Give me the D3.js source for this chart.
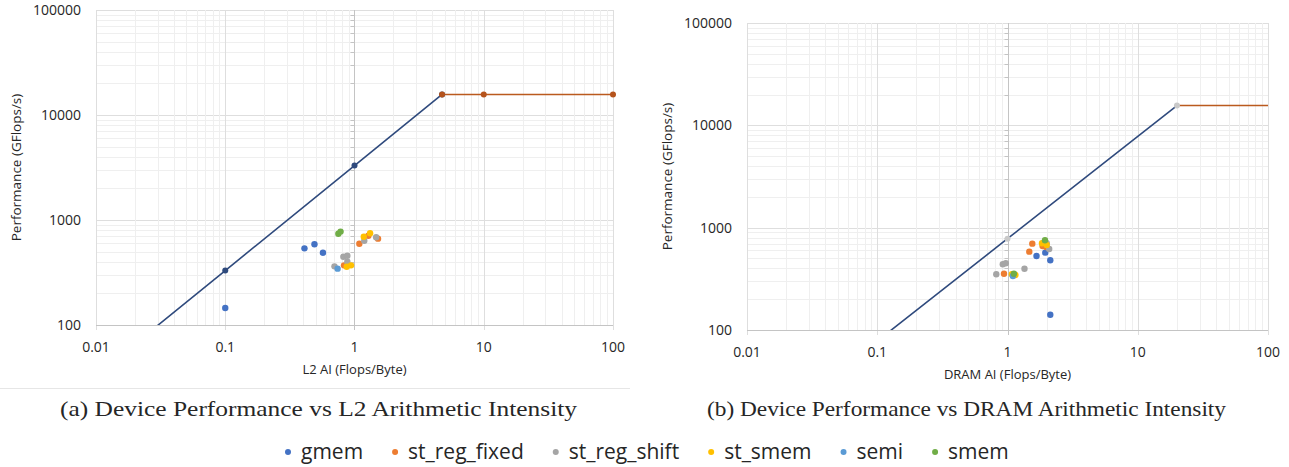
<!DOCTYPE html>
<html>
<head>
<meta charset="utf-8">
<script src="https://cdn.jsdelivr.net/npm/d3@7"></script>
<style>
  body { margin: 0; background: #fff; }
  text { font-family: "Open Sans", sans-serif; fill: #262626; }
</style>
</head>
<body>
<div id="chart"></div>
<script>
var width = 1289,
    height = 467;

// legend / series
var seriesNames = ["gmem", "st_reg_fixed", "st_reg_shift", "st_smem", "semi", "smem"];
var seriesColors = ["#4472C4", "#ED7D31", "#A5A5A5", "#FFC000", "#5B9BD5", "#70AD47"];

var xTickValues = [0.01, 0.1, 1, 10, 100];
var yTickValues = [100, 1000, 10000, 100000];

// roofline, L2
var l2RoofX = [0.01, 0.1, 1, 4.76];
var l2RoofY = [33, 330, 3300, 15700];
var l2PeakX = [4.76, 10, 100];
var l2PeakY = [15700, 15700, 15700];

// roofline, DRAM
var dramRoofX = [0.1, 1, 20];
var dramRoofY = [78, 780, 15600];
var dramPeakX = [20, 100];
var dramPeakY = [15600, 15600];

// measured kernels, L2 AI  [AI, GFlops/s]
var l2Gmem = [[0.1, 145], [0.41, 537], [0.49, 587], [0.57, 488]];
var l2RegFixed = [[0.83, 370], [1.09, 595], [1.28, 709], [1.52, 664]];
var l2RegShift = [[0.70, 362], [0.82, 447], [0.88, 457], [0.88, 401], [1.19, 635], [1.47, 684]];
var l2StSmem = [[0.87, 359], [0.94, 370], [1.18, 693], [1.32, 747]];
var l2Semi = [[0.74, 344]];
var l2Smem = [[0.75, 740], [0.78, 775]];

// measured kernels, DRAM AI
var dramGmem = [[1.67, 529], [1.95, 570], [2.13, 480], [2.13, 141]];
var dramRegFixed = [[0.94, 355], [1.47, 583], [1.55, 698], [1.86, 661], [1.98, 648]];
var dramRegShift = [[0.82, 350], [0.92, 439], [0.97, 449], [1.35, 397], [2.0, 704], [2.09, 619]];
var dramStSmem = [[1.08, 350], [1.15, 345], [1.84, 704], [2.0, 677]];
var dramSemi = [[1.10, 337]];
var dramSmem = [[1.12, 355], [1.94, 753]];

var svg = d3.select("#chart").append("svg")
    .attr("width", width)
    .attr("height", height);

svg.append("rect").attr("width", width).attr("height", height).attr("fill", "#fff");

function drawPanel(id, box, roofX, roofY, peakX, peakY, roofDot, peakDot, groups, xTitle) {
    var x = d3.scaleLog().domain([0.01, 100]).range([box.left, box.right]);
    var y = d3.scaleLog().domain([100, 100000]).range([box.bottom, box.top]);
    var g = svg.append("g");

    svg.append("clipPath").attr("id", id)
        .append("rect")
        .attr("x", box.left).attr("y", box.top)
        .attr("width", box.right - box.left)
        .attr("height", box.bottom - box.top);

    // grid
    var isMajor = function(d) { return Math.abs(Math.log10(d) - Math.round(Math.log10(d))) < 1e-6; };
    g.append("g").selectAll("line")
        .data(y.ticks())
        .enter().append("line")
        .attr("x1", box.left).attr("x2", box.right)
        .attr("y1", function(d) { return Math.round(y(d)) + 0.5; })
        .attr("y2", function(d) { return Math.round(y(d)) + 0.5; })
        .attr("stroke", function(d) { return isMajor(d) ? "#dedede" : "#efefef"; });
    g.append("g").selectAll("line")
        .data(x.ticks())
        .enter().append("line")
        .attr("x1", function(d) { return Math.round(x(d)) + 0.5; })
        .attr("x2", function(d) { return Math.round(x(d)) + 0.5; })
        .attr("y1", box.top)
        .attr("y2", function(d) { return isMajor(d) ? box.bottom + 5 : box.bottom; })
        .attr("stroke", function(d) { return isMajor(d) ? "#dedede" : "#efefef"; });

    // vertical axis crosses at x = 1
    var ax = Math.round(x(1)) + 0.5;
    g.append("line")
        .attr("x1", ax).attr("x2", ax)
        .attr("y1", box.top).attr("y2", box.bottom + 5)
        .attr("stroke", "#c4c4c4");
    g.append("g").selectAll("line")
        .data(y.ticks().filter(function(d) { return !isMajor(d); }))
        .enter().append("line")
        .attr("x1", ax - 4).attr("x2", ax)
        .attr("y1", function(d) { return Math.round(y(d)) + 0.5; })
        .attr("y2", function(d) { return Math.round(y(d)) + 0.5; })
        .attr("stroke", "#c4c4c4");

    // horizontal axis at y = 100
    var ay = Math.round(y(100)) + 0.5;
    g.append("line")
        .attr("x1", box.left).attr("x2", box.right)
        .attr("y1", ay).attr("y2", ay)
        .attr("stroke", "#c4c4c4");

    // tick labels
    g.append("g").selectAll("text")
        .data(yTickValues)
        .enter().append("text")
        .attr("x", box.left - 15)
        .attr("y", function(d) { return y(d) + 5; })
        .attr("text-anchor", "end")
        .style("font-size", "14px")
        .text(function(d) { return d; });
    g.append("g").selectAll("text")
        .data(xTickValues)
        .enter().append("text")
        .attr("x", function(d) { return x(d); })
        .attr("y", box.bottom + 27)
        .attr("text-anchor", "middle")
        .style("font-size", "14px")
        .text(function(d) { return d; });

    g.append("text")
        .attr("x", (box.left + box.right) / 2)
        .attr("y", box.bottom + 49)
        .attr("text-anchor", "middle")
        .style("font-size", "13px")
        .text(xTitle);
    g.append("text")
        .attr("transform", "translate(" + (box.left - 75) + "," + ((box.top + box.bottom) / 2) + ") rotate(-90)")
        .attr("text-anchor", "middle")
        .style("font-size", "13.5px")
        .text("Performance (GFlops/s)");

    // roofline
    var plot = g.append("g").attr("clip-path", "url(#" + id + ")");
    var line = d3.line().x(function(d) { return x(d[0]); }).y(function(d) { return y(d[1]); });
    var roof = roofX.map(function(v, i) { return [v, roofY[i]]; });
    var peak = peakX.map(function(v, i) { return [v, peakY[i]]; });

    plot.append("path").attr("d", line(roof))
        .attr("fill", "none").attr("stroke", "#2F4A7D").attr("stroke-width", 1.6);
    plot.append("path").attr("d", line(peak))
        .attr("fill", "none").attr("stroke", "#BA5A1E").attr("stroke-width", 1.6);

    var dots = g.append("g");
    if (roofDot) {
        dots.selectAll(".rd").data(roof).enter().append("circle")
            .attr("cx", function(d) { return x(d[0]); })
            .attr("cy", function(d) { return y(d[1]); })
            .attr("r", function(d) { return d[1] < 100 ? 0 : 3; })
            .attr("fill", roofDot);
    }
    if (peakDot) {
        dots.selectAll(".pd").data(peak).enter().append("circle")
            .attr("cx", function(d) { return x(d[0]); })
            .attr("cy", function(d) { return y(d[1]); })
            .attr("r", 3)
            .attr("fill", peakDot);
    }

    // measured kernels
    groups.forEach(function(pts, i) {
        g.append("g").selectAll("circle")
            .data(pts)
            .enter().append("circle")
            .attr("cx", function(d) { return x(d[0]); })
            .attr("cy", function(d) { return y(d[1]); })
            .attr("r", 3.2)
            .attr("fill", seriesColors[i]);
    });
}

drawPanel("clipL2", {left: 96, right: 613, top: 10, bottom: 325},
    l2RoofX, l2RoofY, l2PeakX, l2PeakY, "#2F4A7D", "#B5531C",
    [l2Gmem, l2RegFixed, l2RegShift, l2StSmem, l2Semi, l2Smem],
    "L2 AI (Flops/Byte)");

drawPanel("clipDRAM", {left: 747, right: 1268, top: 23, bottom: 330},
    dramRoofX, dramRoofY, dramPeakX, dramPeakY, "#c9c9c9", null,
    [dramGmem, dramRegFixed, dramRegShift, dramStSmem, dramSemi, dramSmem],
    "DRAM AI (Flops/Byte)");

// chart frame line under left panel
svg.append("line")
    .attr("x1", 0).attr("x2", 630)
    .attr("y1", 388.5).attr("y2", 388.5)
    .attr("stroke", "#e6e6e6");

// captions
svg.append("text")
    .attr("x", 60).attr("y", 416)
    .attr("textLength", 517)
    .attr("lengthAdjust", "spacingAndGlyphs")
    .style("font-family", "'Liberation Serif', 'Times New Roman', serif")
    .style("font-size", "22px")
    .text("(a) Device Performance vs L2 Arithmetic Intensity");
svg.append("text")
    .attr("x", 707).attr("y", 416)
    .attr("textLength", 519)
    .attr("lengthAdjust", "spacingAndGlyphs")
    .style("font-family", "'Liberation Serif', 'Times New Roman', serif")
    .style("font-size", "22px")
    .text("(b) Device Performance vs DRAM Arithmetic Intensity");

// legend
var legend = svg.append("g");
var lx = 288;
seriesNames.forEach(function(name, i) {
    legend.append("circle")
        .attr("cx", lx).attr("cy", 452)
        .attr("r", 3)
        .attr("fill", seriesColors[i]);
    var t = legend.append("text")
        .attr("x", lx + 13)
        .attr("y", 459)
        .style("font-size", "21px")
        .text(name);
    lx = lx + 13 + t.node().getComputedTextLength() + 32;
});
</script>
</body>
</html>
